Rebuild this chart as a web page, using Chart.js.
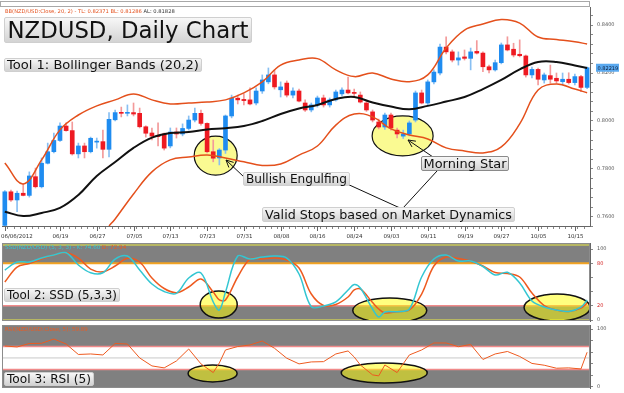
<!DOCTYPE html>
<html>
<head>
<meta charset="utf-8">
<script src="https://cdn.jsdelivr.net/npm/chart.js@4.4.1/dist/chart.umd.min.js"></script>
<style>
  html, body { margin: 0; padding: 0; background: #fff; }
  body { width: 624px; height: 393px; position: relative; overflow: hidden; font-family: "DejaVu Sans", Verdana, sans-serif; }
  .lbl { position: absolute; white-space: nowrap; color: #111; text-align: center; box-sizing: border-box;
         background: linear-gradient(#f7f7f7, #d3d3d3); border: 1px solid #cfcfcf; border-radius: 2px; }
  .leg { position: absolute; white-space: nowrap; line-height: 1; }
  #topbox { position: absolute; left: 0; top: 1px; width: 590px; height: 6px; box-sizing: border-box; border: 1px solid #a8a8a8; }
</style>
</head>
<body>
<div id="topbox"></div>
<script>
// ── data ───────────────────────────────────────────────
// NZDUSD daily candles, 06/06/2012 .. 10/17/2012 (index 0..95)
const opens = [0.7565,0.7705,0.7671,0.7699,0.7690,0.7768,0.7726,0.7824,0.7872,0.7919,
  0.7979,0.7960,0.7863,0.7896,0.7872,0.7912,0.7914,0.7882,0.8005,0.8036,
  0.8032,0.8035,0.8032,0.7976,0.7950,0.7937,0.7946,0.7896,0.7954,0.7946,
  0.7969,0.8004,0.8032,0.7990,0.7872,0.7846,0.7879,0.8021,0.8095,0.8090,
  0.8088,0.8075,0.8125,0.8163,0.8192,0.8130,0.8158,0.8108,0.8125,0.8075,
  0.8046,0.8067,0.8096,0.8067,0.8088,0.8113,0.8129,0.8119,0.8108,0.8075,
  0.8038,0.7996,0.7975,0.8025,0.7962,0.7937,0.7946,0.8004,0.8117,0.8075,
  0.8163,0.8200,0.8308,0.8288,0.8254,0.8267,0.8261,0.8290,0.8283,0.8226,
  0.8213,0.8243,0.8317,0.8299,0.8278,0.8271,0.8192,0.8215,0.8171,0.8189,
  0.8178,0.8164,0.8174,0.8160,0.8185,0.8140];
const highs = [0.7710,0.7712,0.7708,0.7737,0.7788,0.7804,0.7846,0.7908,0.7950,0.7992,
  0.7992,0.7996,0.7908,0.7908,0.7933,0.7929,0.7962,0.8035,0.8046,0.8058,
  0.8067,0.8075,0.8054,0.7980,0.7971,0.7992,0.7950,0.7971,0.7971,0.7988,
  0.8021,0.8054,0.8046,0.7992,0.7921,0.7885,0.8025,0.8108,0.8108,0.8113,
  0.8138,0.8138,0.8192,0.8221,0.8213,0.8163,0.8167,0.8138,0.8133,0.8088,
  0.8075,0.8104,0.8108,0.8096,0.8129,0.8138,0.8183,0.8133,0.8121,0.8083,
  0.8046,0.8008,0.8033,0.8033,0.7971,0.7962,0.8000,0.8125,0.8129,0.8171,
  0.8213,0.8321,0.8351,0.8296,0.8288,0.8296,0.8304,0.8335,0.8288,0.8233,
  0.8254,0.8325,0.8351,0.8324,0.8338,0.8275,0.8225,0.8221,0.8200,0.8233,
  0.8200,0.8200,0.8201,0.8195,0.8190,0.8225];
const lows = [0.7560,0.7665,0.7622,0.7688,0.7683,0.7721,0.7721,0.7821,0.7867,0.7915,
  0.7958,0.7858,0.7846,0.7846,0.7867,0.7887,0.7846,0.7850,0.8000,0.8017,
  0.8021,0.8021,0.7971,0.7933,0.7921,0.7896,0.7879,0.7888,0.7929,0.7938,
  0.7962,0.7996,0.7983,0.7867,0.7830,0.7817,0.7865,0.8013,0.8071,0.8067,
  0.8067,0.8067,0.8115,0.8155,0.8133,0.8100,0.8100,0.8096,0.8079,0.8040,
  0.8038,0.8058,0.8058,0.8058,0.8083,0.8104,0.8113,0.8104,0.8075,0.8040,
  0.7996,0.7967,0.7965,0.7962,0.7929,0.7927,0.7938,0.7996,0.8071,0.8067,
  0.8154,0.8192,0.8279,0.8246,0.8233,0.8254,0.8213,0.8279,0.8206,0.8200,
  0.8208,0.8238,0.8292,0.8267,0.8267,0.8183,0.8179,0.8150,0.8158,0.8158,
  0.8158,0.8150,0.8154,0.8150,0.8122,0.8135];
const closes = [0.7705,0.7671,0.7699,0.7690,0.7771,0.7726,0.7824,0.7872,0.7919,0.7979,
  0.7960,0.7863,0.7896,0.7872,0.7928,0.7915,0.7882,0.8007,0.8035,0.8032,
  0.8035,0.8029,0.7976,0.7949,0.7937,0.7935,0.7887,0.7954,0.7946,0.7969,
  0.8004,0.8032,0.7990,0.7872,0.7845,0.7879,0.8021,0.8095,0.8088,0.8085,
  0.8071,0.8125,0.8171,0.8192,0.8142,0.8142,0.8108,0.8125,0.8083,0.8046,
  0.8067,0.8096,0.8067,0.8088,0.8121,0.8129,0.8117,0.8115,0.8079,0.8046,
  0.8004,0.7975,0.8025,0.7971,0.7946,0.7946,0.7992,0.8117,0.8075,0.8163,
  0.8204,0.8308,0.8288,0.8254,0.8263,0.8261,0.8288,0.8283,0.8226,0.8213,
  0.8243,0.8317,0.8296,0.8275,0.8272,0.8192,0.8215,0.8174,0.8192,0.8174,
  0.8167,0.8174,0.8160,0.8185,0.8140,0.82219];

// x-axis date labels (candle index -> label)
const tickIdx = [0, 9, 15, 21, 27, 33, 39, 45, 51, 57, 63, 69, 75, 81, 87, 93];
const tickLabels = ['06/06/2012','06/19','06/27','07/05','07/13','07/23','07/31','08/08',
  '08/16','08/24','09/03','09/11','09/19','09/27','10/05','10/15'];

// Bollinger Bands (20,2)
const bbIdx = [0,3,6,9,12,15,18,21,24,27,30,33,36,39,42,45,48,51,54,57,60,63,66,69,72,75,78,81,84,87,90,93,95];
const bbUpper = [0.7825,0.7738,0.7838,0.7963,0.8025,0.8063,0.8088,0.8113,0.8088,0.8071,0.8075,0.8079,0.8088,
  0.8117,0.8163,0.8233,0.8254,0.8260,0.8213,0.8185,0.8200,0.8175,0.8164,0.8192,0.8304,0.8379,0.8404,
  0.8423,0.8408,0.8350,0.8340,0.8330,0.8321];
const bbMiddle = [0.7622,0.7604,0.7617,0.7638,0.7692,0.7771,0.7829,0.7888,0.7931,0.7950,0.7954,0.7965,0.7970,
  0.7979,0.8000,0.8029,0.8052,0.8067,0.8092,0.8100,0.8077,0.8060,0.8049,0.8063,0.8081,0.8100,0.8133,
  0.8171,0.8215,0.8246,0.8246,0.8231,0.8221];
const bbLowerIdx = [17,18,21,24,27,30,33,36,39,42,45,48,51,54,57,60,63,66,69,72,75,78,81,84,87,90,93,95];
const bbLower = [0.7563,0.7592,0.7696,0.7788,0.7838,0.7850,0.7858,0.7846,0.7830,0.7815,0.7821,0.7858,0.7896,
  0.7983,0.8029,0.8017,0.7967,0.7942,0.7925,0.7888,0.7875,0.7867,0.7892,0.7988,0.8129,0.8154,0.8133,0.8118];

// oscillators (SSD 5,3,3 and RSI 5)
const oscIdx = [0,2,4,6,8,10,12,14,16,18,20,22,24,26,28,30,32,34,35,36,38,40,42,44,46,48,50,52,54,56,57,58,
  60,61,62,64,66,68,70,72,74,76,78,80,82,84,86,88,90,92,94,95];
const ssdK = [70.4,81.7,81.7,87.3,91.5,94.8,77.5,66.6,66.6,85.9,90.1,70.4,50.7,40.1,37.6,59.2,66.2,25.4,14.1,39.4,
  90.1,85.9,88.7,90.1,87.3,64.8,18.7,19.7,25.4,42.3,50.0,45.1,15.5,4.2,11.3,11.7,15.5,60.6,85.9,91.5,
  83.1,83.1,75.4,63.4,67.2,52.1,26.8,18.3,14.1,12.0,18.3,28.2];
const ssdD = [53.5,74.6,79.6,85.9,91.5,94.8,87.3,71.8,68.0,76.1,86.9,81.7,59.2,44.4,38.5,46.5,57.7,39.4,28.2,28.2,
  60.6,85.9,85.9,87.3,84.5,73.2,36.6,20.4,21.8,32.4,42.3,43.7,24.6,15.5,9.9,11.7,14.1,36.6,76.1,88.7,
  86.6,82.7,76.1,66.9,65.5,60.6,38.0,20.4,14.1,12.0,16.9,23.9];
const rsi = [70.7,69.0,75.0,75.3,82.8,74.1,56.0,56.9,55.2,75.0,74.1,50.0,36.2,32.8,44.8,65.5,39.7,24.7,41.4,63.8,
  69.8,72.4,79.3,66.7,49.5,39.7,43.1,43.6,56.9,62.1,51.7,37.9,20.7,19.0,37.9,24.7,55.2,63.8,75.9,75.9,
  69.5,73.3,47.4,56.9,61.2,52.6,40.5,37.4,32.2,32.8,31.0,59.89];

const ssdLevels = [20, 80];
const rsiLevels = [30, 50, 70];

// ── helpers ────────────────────────────────────────────
const FONT = '"DejaVu Sans", Verdana, sans-serif';
Chart.defaults.font.family = FONT;
const meas = document.createElement('canvas').getContext('2d');
function fitSize(text, w) {
  meas.font = '100px ' + FONT;
  return 100 * w / meas.measureText(text).width;
}
function addLabel(text, x, y, w, h, tw, border) {
  const d = document.createElement('div');
  d.className = 'lbl';
  d.textContent = text;
  d.style.cssText += `left:${x}px;top:${y}px;width:${w}px;height:${h}px;font-size:${fitSize(text, tw).toFixed(2)}px;line-height:${h - 2}px;`;
  if (border) d.style.borderColor = border;
  document.body.appendChild(d);
}
function addLegend(parts, x, y, tw) {
  const d = document.createElement('div');
  d.className = 'leg';
  const full = parts.map(p => p[0]).join('');
  d.style.cssText += `left:${x}px;top:${y}px;font-size:${fitSize(full, tw).toFixed(2)}px;`;
  parts.forEach(([t, c]) => { const s = document.createElement('span'); s.textContent = t; s.style.color = c; d.appendChild(s); });
  document.body.appendChild(d);
}
function makeCanvas(top, h) {
  const c = document.createElement('canvas');
  c.width = 624; c.height = h;
  c.style.cssText = `position:absolute;left:0;top:${top}px;width:624px;height:${h}px;`;
  document.body.appendChild(c);
  return c;
}
function arrow(ctx, x1, y1, x2, y2, head) {
  ctx.beginPath();
  ctx.moveTo(x1, y1); ctx.lineTo(x2, y2);
  if (head) {
    const a = Math.atan2(y2 - y1, x2 - x1);
    for (const s of [-1, 1]) {
      ctx.moveTo(x2, y2);
      ctx.lineTo(x2 - 8 * Math.cos(a + s * 0.45), y2 - 8 * Math.sin(a + s * 0.45));
    }
  }
  ctx.stroke();
}
function ellipse(ctx, sx, sy, e, fill, lw) {
  ctx.beginPath();
  ctx.ellipse(sx.getPixelForValue(e.i), sy.getPixelForValue(e.v), e.rx, e.ry, 0, 0, Math.PI * 2);
  ctx.fillStyle = fill; ctx.fill();
  ctx.lineWidth = lw; ctx.strokeStyle = '#111'; ctx.stroke();
}
// fixed-width right axis, no extra label padding above/below the plot
function fixAxis(s) { s.width = 34; s.paddingTop = 0; s.paddingBottom = 0; }

const X_MIN = -0.46, X_MAX = 95.47;
const isUp = i => closes[i] >= opens[i];
const pts = (idx, vals) => idx.map((x, k) => ({ x, y: vals[k] }));

// ── main price chart ───────────────────────────────────
const mainEllipses = [
  { i: 34.4, v: 0.7856, rx: 21.5, ry: 19.5 },
  { i: 64.9, v: 0.7938, rx: 30.5, ry: 20 }
];
const mainDecor = {
  id: 'mainDecor',
  beforeDatasetsDraw(chart) {
    const { ctx, chartArea: a, scales: { x, y } } = chart;
    ctx.save();
    ctx.beginPath(); ctx.rect(a.left, a.top, a.width, a.height); ctx.clip();
    mainEllipses.forEach(e => ellipse(ctx, x, y, e, '#fafa92', 1.2));
    ctx.restore();
  },
  afterDraw(chart) {
    const { ctx, chartArea: a, scales: { x, y } } = chart;
    ctx.save();
    // date labels + major ticks
    ctx.font = '5.5px ' + FONT;
    ctx.fillStyle = '#333';
    ctx.textBaseline = 'middle';
    ctx.strokeStyle = '#666'; ctx.lineWidth = 1;
    tickIdx.forEach((t, k) => {
      const px = Math.round(x.getPixelForValue(t)) + 0.5;
      ctx.beginPath(); ctx.moveTo(px, a.bottom); ctx.lineTo(px, a.bottom + 5); ctx.stroke();
      const w = ctx.measureText(tickLabels[k]).width;
      ctx.fillText(tickLabels[k], Math.max(1, px - w / 2), a.bottom + 11);
    });
    // last price tag
    const last = closes[closes.length - 1];
    const py = y.getPixelForValue(last);
    ctx.fillStyle = '#5aa9ef';
    ctx.fillRect(a.right + 6, py - 4, 23, 8);
    ctx.fillStyle = '#0b1d3c';
    ctx.font = '5px ' + FONT;
    ctx.fillText(last.toFixed(5), a.right + 7.5, py + 0.5);
    // annotation connectors
    ctx.strokeStyle = '#111'; ctx.lineWidth = 1;
    arrow(ctx, 244, 177, 226, 160, true);
    arrow(ctx, 433, 157, 408, 140, true);
    arrow(ctx, 345, 183, 400, 208, false);
    arrow(ctx, 437, 171, 403, 208, false);
    ctx.restore();
  }
};

new Chart(makeCanvas(0, 247), {
  type: 'bar',
  data: {
    datasets: [
      { type: 'line', data: pts(bbIdx, bbUpper), borderColor: '#e4501c', borderWidth: 1.5, pointRadius: 0, tension: 0.4, order: 1 },
      { type: 'line', data: pts(bbIdx, bbMiddle), borderColor: '#111', borderWidth: 2, pointRadius: 0, tension: 0.4, order: 1 },
      { type: 'line', data: pts(bbLowerIdx, bbLower), borderColor: '#e4501c', borderWidth: 1.5, pointRadius: 0, tension: 0.4, order: 1 },
      { data: opens.map((o, i) => ({ x: i, y: [o, closes[i]] })), grouped: false, barThickness: 4, minBarLength: 1,
        backgroundColor: c => isUp(c.dataIndex) ? '#1f8cf0' : '#ee1a22', order: 2 },
      { data: lows.map((l, i) => ({ x: i, y: [l, highs[i]] })), grouped: false, barThickness: 1,
        backgroundColor: c => isUp(c.dataIndex) ? '#88bff2' : '#f39a9a', order: 3 }
    ]
  },
  options: {
    responsive: false, animation: false, events: [],
    layout: { padding: { left: 2, top: 7, right: 0, bottom: 0 }, autoPadding: false },
    plugins: { legend: { display: false }, tooltip: { enabled: false } },
    scales: {
      x: {
        type: 'linear', min: X_MIN, max: X_MAX, offset: false,
        afterBuildTicks: s => { s.ticks = opens.map((_, i) => ({ value: i })); },
        afterFit: s => { s.height = 21; s.paddingLeft = 0; s.paddingRight = 0; },
        ticks: { display: false },
        grid: { drawOnChartArea: false, tickLength: 3, color: '#888' },
        border: { color: '#666' }
      },
      y: {
        position: 'right', min: 0.75625, max: 0.8475,
        afterBuildTicks: s => {
          const t = [];
          for (let k = 7560; k <= 8460; k += 20) t.push({ value: k / 10000 });
          s.ticks = t;
        },
        afterFit: fixAxis,
        ticks: {
          font: { size: 5 }, color: '#555', padding: 4,
          callback: v => Math.round(v * 10000) % 100 === 0 ? v.toFixed(4) : ''
        },
        grid: { drawOnChartArea: false, tickLength: 3, color: '#888' },
        border: { color: '#666' }
      }
    }
  },
  plugins: [mainDecor]
});

// ── oscillator panels ──────────────────────────────────
function oscDecor(levels, ellipses, hi, lo, levelStyle, edgeLines) {
  return {
    id: 'oscDecor',
    beforeDatasetsDraw(chart) {
      const { ctx, chartArea: a, scales: { x, y } } = chart;
      ctx.save();
      ctx.beginPath(); ctx.rect(a.left, a.top, a.width, a.height); ctx.clip();
      ctx.fillStyle = '#808080';
      const yHi = y.getPixelForValue(hi), yLo = y.getPixelForValue(lo);
      ctx.fillRect(a.left, a.top, a.width, yHi - a.top);
      ctx.fillRect(a.left, yLo, a.width, a.bottom - yLo);
      levels.forEach(l => {
        const [col, w] = levelStyle(l);
        const py = y.getPixelForValue(l);
        ctx.strokeStyle = col; ctx.lineWidth = w;
        ctx.beginPath(); ctx.moveTo(a.left, py); ctx.lineTo(a.right, py); ctx.stroke();
      });
      if (edgeLines) {
        ctx.strokeStyle = '#c9c95a'; ctx.lineWidth = 1.5;
        [a.top + 2, a.bottom - 1].forEach(py => { ctx.beginPath(); ctx.moveTo(a.left, py); ctx.lineTo(a.right, py); ctx.stroke(); });
      }
      ellipses.forEach(e => ellipse(ctx, x, y, e, 'rgba(255,255,0,0.5)', 1.5));
      ctx.restore();
    },
    afterDraw(chart) {
      const { ctx, chartArea: a } = chart;
      ctx.save();
      ctx.strokeStyle = '#8c8c8c'; ctx.lineWidth = 1;
      ctx.strokeRect(a.left + 0.5, a.top + 0.5, a.width - 1, a.height - 1);
      ctx.restore();
    }
  };
}
function oscOptions(yMin, yMax, padBottom, labelMap, redVals) {
  return {
    responsive: false, animation: false, events: [],
    layout: { padding: { left: 2, top: 2, right: 0, bottom: padBottom }, autoPadding: false },
    plugins: { legend: { display: false }, tooltip: { enabled: false } },
    scales: {
      x: { type: 'linear', min: X_MIN, max: X_MAX, display: false },
      y: {
        position: 'right', min: yMin, max: yMax,
        afterBuildTicks: s => { const t = []; for (let v = 0; v <= 100; v += 10) t.push({ value: v }); s.ticks = t; },
        afterFit: fixAxis,
        ticks: {
          font: { size: 5 }, padding: 4,
          color: c => redVals.includes(c.tick.value) ? '#d42020' : '#555',
          callback: v => labelMap[v] ?? ''
        },
        grid: { drawOnChartArea: false, tickLength: 3, color: '#888' },
        border: { color: '#666' }
      }
    }
  };
}

const ssdEllipses = [
  { i: 34.9, v: 21.8, rx: 18.5, ry: 13.5 },
  { i: 62.8, v: 13.4, rx: 37, ry: 12.5 },
  { i: 90.1, v: 17.6, rx: 33, ry: 13.5 }
];
new Chart(makeCanvas(241, 82), {
  type: 'line',
  data: {
    datasets: [
      { data: pts(oscIdx, ssdK), borderColor: '#33c6d2', borderWidth: 1.5, pointRadius: 0, tension: 0.35 },
      { data: pts(oscIdx, ssdD), borderColor: '#ee5a1f', borderWidth: 1.5, pointRadius: 0, tension: 0.35 }
    ]
  },
  options: oscOptions(-1.4, 108.5, 2, { 0: '0', 20: '20', 50: '50.00', 80: '80', 100: '100' }, [20, 80]),
  plugins: [oscDecor(ssdLevels, ssdEllipses, 80, 20, l => l === 80 ? ['#f2a323', 2] : ['#f08a8a', 1.5], true)]
});

const rsiEllipses = [
  { i: 33.9, v: 23.3, rx: 24.5, ry: 8.5 },
  { i: 61.9, v: 24.1, rx: 43, ry: 10 }
];
new Chart(makeCanvas(323, 70), {
  type: 'line',
  data: {
    datasets: [
      { data: pts(oscIdx, rsi), borderColor: '#ee5a1f', borderWidth: 1, pointRadius: 0, tension: 0 }
    ]
  },
  options: oscOptions(-2, 107, 5, { 0: '0', 30: '30', 50: '50', 70: '70', 100: '100' }, [30, 70]),
  plugins: [oscDecor(rsiLevels, rsiEllipses, 70, 30, l => l === 50 ? ['#c8c8c8', 1] : ['#f08a8a', 1.5], false)]
});

// ── text overlays ──────────────────────────────────────
addLegend([['BB(NZD/USD:Close, 20, 2) -  TL: 0.82371  BL: 0.81286  ', '#e4501c'], ['AL: 0.81828', '#333']], 5, 9, 175);
addLegend([['SSD(NZD/USD) (5, 3, 3) -  K: 74.60  ', '#33c6d2'], ['D: 72.94', '#ee5a1f']], 5, 245, 125);
addLegend([['RSI(NZD/USD:Close, 5): 59.89', '#ee5a1f']], 5, 327, 83);

addLabel('NZDUSD, Daily Chart', 4, 17, 248, 26, 241);
addLabel('Tool 1: Bollinger Bands (20,2)', 4, 58, 198, 14, 192);
addLabel('Bullish Engulfing', 243, 172, 107, 14, 101);
addLabel('Morning Star', 421, 156, 88, 15, 83, '#8a8a8a');
addLabel('Valid Stops based on Market Dynamics', 262, 207, 253, 15, 247);
addLabel('Tool 2: SSD (5,3,3)', 4, 288, 116, 14, 110);
addLabel('Tool 3: RSI (5)', 4, 372, 90, 14, 84);
</script>
</body>
</html>
